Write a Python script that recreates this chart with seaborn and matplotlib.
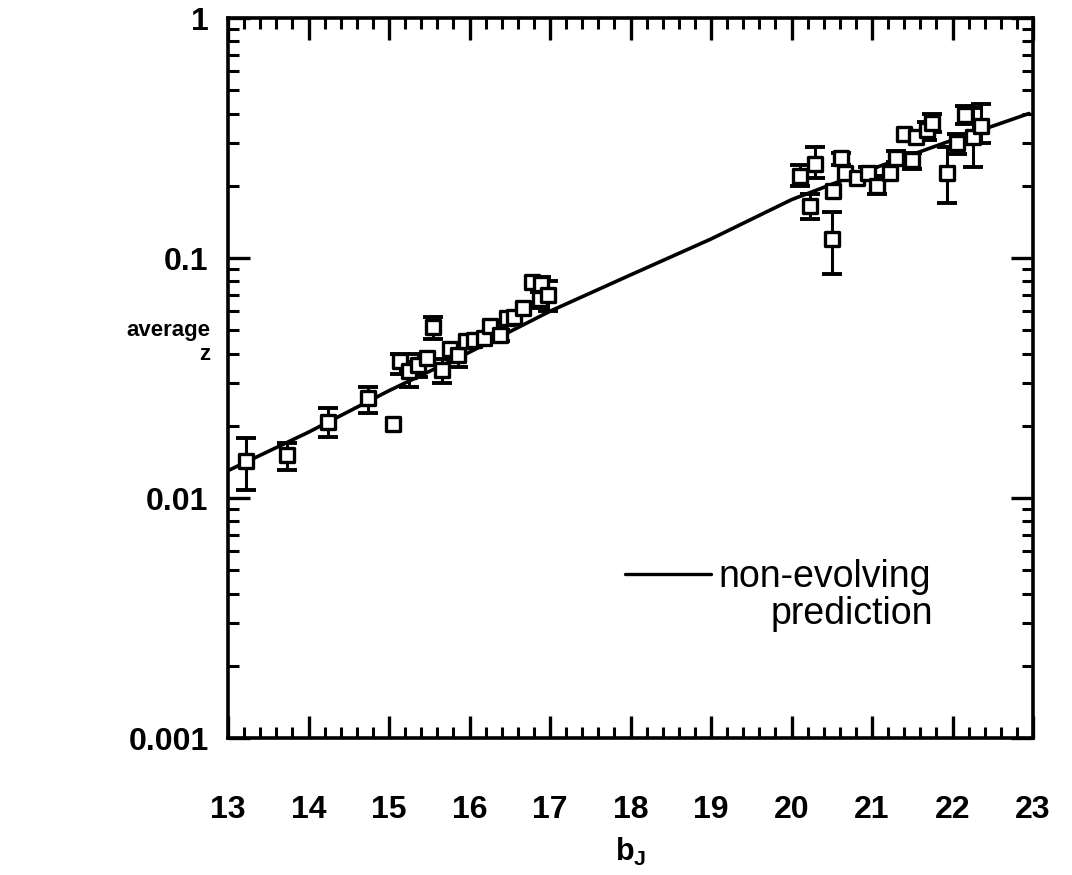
import numpy as np
import pandas as pd
import matplotlib
matplotlib.use("Agg")
import matplotlib.pyplot as plt
import seaborn as sns
from matplotlib.ticker import FixedLocator, MultipleLocator, LogLocator, NullFormatter, FixedFormatter
from matplotlib.lines import Line2D

# ---------------- data ----------------
bj = [13.22, 13.73, 14.24, 14.74, 15.05, 15.14, 15.25, 15.36, 15.47, 15.55,
      15.66, 15.76, 15.86, 15.96, 16.06, 16.18, 16.25, 16.38, 16.47, 16.55,
      16.66, 16.78, 16.89, 16.88, 16.98,
      20.11, 20.23, 20.29, 20.50, 20.52, 20.62, 20.66, 20.81, 20.95, 21.06,
      21.22, 21.30, 21.40, 21.50, 21.55, 21.68, 21.75, 21.93, 22.05, 22.15,
      22.25, 22.35]
zavg = [0.0143, 0.0151, 0.0208, 0.0260, 0.0203, 0.0371, 0.0337, 0.0357, 0.0382, 0.0514,
        0.0343, 0.0416, 0.0393, 0.0450, 0.0454, 0.0463, 0.0519, 0.0476, 0.0561, 0.0566,
        0.0618, 0.0794, 0.0778, 0.0674, 0.0700,
        0.220, 0.165, 0.247, 0.120, 0.191, 0.260, 0.225, 0.216, 0.227, 0.200,
        0.227, 0.262, 0.330, 0.255, 0.320, 0.340, 0.365, 0.227, 0.300, 0.395,
        0.320, 0.355]
z_lo = [0.0108, 0.0131, 0.0180, 0.0225, np.nan, 0.0330, 0.0290, 0.0320, np.nan, 0.0460,
        0.0300, np.nan, 0.0350, np.nan, np.nan, np.nan, np.nan, 0.0450, np.nan, np.nan,
        np.nan, np.nan, 0.0720, 0.0620, 0.0600,
        0.200, 0.145, 0.215, 0.0860, np.nan, 0.245, np.nan, np.nan, 0.215, 0.185,
        np.nan, 0.250, np.nan, 0.235, np.nan, 0.310, 0.335, 0.170, 0.270, 0.360,
        0.240, 0.300]
z_hi = [0.0177, 0.0170, 0.0238, 0.0291, np.nan, 0.0400, 0.0370, 0.0400, np.nan, 0.0570,
        0.0380, np.nan, 0.0430, np.nan, np.nan, np.nan, np.nan, 0.0500, np.nan, np.nan,
        np.nan, np.nan, 0.0830, 0.0720, 0.0800,
        0.245, 0.185, 0.290, 0.155, np.nan, 0.275, np.nan, np.nan, 0.240, 0.220,
        np.nan, 0.278, np.nan, 0.275, np.nan, 0.370, 0.400, 0.290, 0.330, 0.430,
        0.420, 0.440]

pred_bj = [13.0, 14.0, 15.0, 16.0, 17.0, 18.0, 19.0, 20.0, 21.0, 22.0, 22.95]
pred_z = [0.0130, 0.0188, 0.0280, 0.0405, 0.0600, 0.0850, 0.1200, 0.1750, 0.2350, 0.3100, 0.4000]

x_ticks = [13, 14, 15, 16, 17, 18, 19, 20, 21, 22, 23]
y_ticks = [0.001, 0.01, 0.1, 1]
y_tick_labels = ["0.001", "0.01", "0.1", "1"]

# ---------------- style ----------------
sns.set_theme(style="white")
plt.rcParams['font.family'] = ['Liberation Sans', 'DejaVu Sans']
plt.rcParams['text.color'] = 'black'
plt.rcParams['axes.labelcolor'] = 'black'
plt.rcParams['xtick.color'] = 'black'
plt.rcParams['ytick.color'] = 'black'

fig = plt.figure(figsize=(10.72, 8.75), dpi=100)
ax = fig.add_axes([228/1072, 1 - 738/875, (1033-228)/1072, (738-18)/875])

df = pd.DataFrame({"bj": bj, "z": zavg, "lo": z_lo, "hi": z_hi})
pred = pd.DataFrame({"bj": pred_bj, "z": pred_z})

sns.lineplot(data=pred, x="bj", y="z", ax=ax, color="black", lw=2.6, zorder=2)

err = df.dropna(subset=["lo", "hi"])
ax.errorbar(err["bj"], err["z"],
            yerr=[err["z"] - err["lo"], err["hi"] - err["z"]],
            fmt="none", ecolor="black", elinewidth=2.2, capsize=7, capthick=2.8, zorder=3)

sns.scatterplot(data=df, x="bj", y="z", ax=ax, marker="s", s=115,
                facecolor="white", edgecolor="black", linewidth=2.4, zorder=4)

ax.set_yscale("log")
ax.set_xlim(13, 23)
ax.set_ylim(0.001, 1)

ax.xaxis.set_major_locator(FixedLocator(x_ticks))
ax.xaxis.set_minor_locator(MultipleLocator(0.2))
ax.yaxis.set_major_locator(FixedLocator(y_ticks))
ax.yaxis.set_major_formatter(FixedFormatter(y_tick_labels))
ax.yaxis.set_minor_locator(LogLocator(base=10, subs=np.arange(2, 10)))
ax.yaxis.set_minor_formatter(NullFormatter())

ax.tick_params(axis="both", which="both", direction="in",
               top=True, right=True, bottom=True, left=True, color="black")
ax.tick_params(axis="both", which="major", length=16, width=2.4, labelsize=23,
               labelcolor="black")
ax.tick_params(axis="both", which="minor", length=8, width=2.2)
ax.tick_params(axis="x", which="major", pad=41)
ax.tick_params(axis="y", which="major", pad=14)
for lab in ax.get_xticklabels() + ax.get_yticklabels():
    lab.set_fontweight("bold")

for sp in ax.spines.values():
    sp.set_color("black")
    sp.set_linewidth(2.6)

ax.set_xlabel(r"b$_{\mathregular{J}}$", fontsize=22, fontweight="bold", labelpad=8)
ax.set_ylabel("")
fig.text(168/1072, 1 - 330/875, "average", fontsize=16, fontweight="bold",
         ha="center", va="center")
fig.text(205/1072, 1 - 354/875, "z", fontsize=16, fontweight="bold",
         ha="center", va="center")

handle = Line2D([], [], color="black", lw=2.4)
leg = ax.legend([handle], ["non-evolving"], loc="center left",
                bbox_to_anchor=(0.493, 0.2236), frameon=False, fontsize=27,
                handlelength=2.3, handletextpad=0.2, borderaxespad=0,
                borderpad=0)
ax.text(0.876, 0.172, "prediction", transform=ax.transAxes, fontsize=27,
        ha="right", va="center")

fig.savefig("out.png", dpi=100, facecolor="white")
